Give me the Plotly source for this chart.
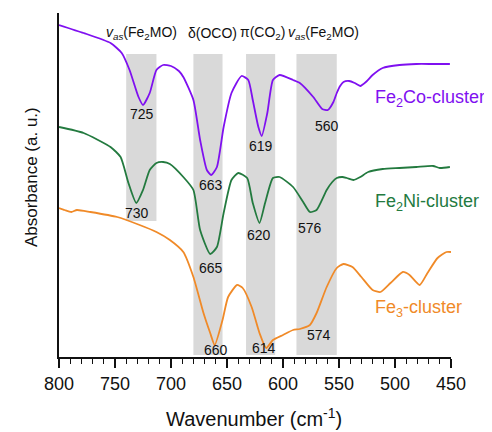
import plotly.graph_objects as go

# Wavenumber (cm-1) and absorbance (a.u., offset traces)
wn_co = [800, 778, 754, 744, 737, 729, 725, 719, 713, 707, 700, 693, 689, 680, 674, 668, 664, 659,
         653, 646, 637, 631, 627, 622, 619, 614, 609, 603, 591, 585, 573, 565, 560, 555, 552, 549,
         546, 541, 536, 531, 526, 520, 511, 496, 481, 466, 451]
ab_co = [332, 324, 314, 304, 287, 260, 252, 264, 287, 292, 291, 286, 280, 257, 217, 187, 182, 190,
         230, 264, 281, 277, 257, 230, 221, 244, 277, 282, 277, 274, 260, 248, 247, 255, 264, 271,
         275, 276, 274, 271, 275, 282, 289, 292, 293, 293, 293]

wn_ni = [800, 778, 754, 745, 738, 731, 725, 719, 713, 707, 701, 689, 680, 674, 665, 659, 653, 646,
         640, 632, 627, 621, 616, 609, 603, 591, 582, 576, 570, 561, 556, 552, 547, 543, 537, 531,
         524, 511, 496, 481, 466, 460, 451]
ab_ni = [230, 224, 210, 200, 174, 154, 167, 187, 194, 195, 193, 180, 167, 127, 103, 110, 144, 177,
         184, 179, 154, 134, 154, 179, 180, 170, 155, 145, 147, 167, 175, 179, 180, 179, 177, 180,
         185, 188, 189, 190, 191, 189, 190]

wn_fe = [800, 795, 789, 784, 772, 748, 728, 713, 701, 689, 680, 671, 665, 661, 654, 649, 641, 636,
         628, 621, 615, 609, 600, 591, 585, 576, 570, 561, 552, 546, 538, 530, 520, 513, 504, 493,
         487, 478, 471, 462, 454, 450]
ab_fe = [149, 147, 145, 147, 145, 140, 132, 125, 117, 105, 80, 44, 24, 12, 37, 60, 72, 69,
         50, 24, 9, 17, 22, 27, 28, 32, 44, 70, 89, 93, 90, 80, 67, 65, 74, 85,
         82, 72, 84, 99, 105, 105]

series_names = ["Fe<sub>2</sub>Co-cluster", "Fe<sub>2</sub>Ni-cluster", "Fe<sub>3</sub>-cluster"]
series_colors = ["#7f10f0", "#237a3f", "#f08a28"]
series_label_y = [259, 155, 49]

# Shaded band ranges (cm-1) and their tops/bottoms
band_lo = [740, 680, 633, 588]
band_hi = [713, 654, 607, 552]
band_bottom = [136, 2, 2, 2]
band_top = 303

# Peak annotations
peak_x = [726, 664, 620, 561, 730, 664, 621, 576, 660, 617, 568]
peak_y = [243, 172, 211, 231, 144, 89, 122, 129, 7, 9, 22]
peak_txt = ["725", "663", "619", "560", "730", "665", "620", "576", "660", "614", "574"]

mode_x = [726, 663, 618, 564]
mode_txt = ["<i>v</i><sub><i>as</i></sub>(Fe<sub>2</sub>MO)", "δ(OCO)", "π(CO<sub>2</sub>)",
            "<i>v</i><sub><i>as</i></sub>(Fe<sub>2</sub>MO)"]
mode_y = 324

x_ticks = [800, 750, 700, 650, 600, 550, 500, 450]

fig = go.Figure()
for wn, ab, c in [(wn_co, ab_co, series_colors[0]), (wn_ni, ab_ni, series_colors[1]),
                  (wn_fe, ab_fe, series_colors[2])]:
    fig.add_trace(go.Scatter(x=wn, y=ab, mode="lines",
                             line=dict(color=c, width=1.8, shape="spline", smoothing=0.55),
                             showlegend=False, hoverinfo="skip"))

shapes = []
for lo, hi, bot in zip(band_lo, band_hi, band_bottom):
    shapes.append(dict(type="rect", xref="x", yref="y", x0=lo, x1=hi, y0=bot, y1=band_top,
                       fillcolor="#d9d9d9", line=dict(width=0), layer="below"))

ann = []
for x, y, t in zip(peak_x, peak_y, peak_txt):
    ann.append(dict(x=x, y=y, text=t, showarrow=False, font=dict(size=14, color="#111"),
                    xanchor="center", yanchor="middle"))
for x, t in zip(mode_x, mode_txt):
    ann.append(dict(x=x, y=mode_y, text=t, showarrow=False, font=dict(size=14, color="#111"),
                    xanchor="center", yanchor="middle"))
for n, c, y in zip(series_names, series_colors, series_label_y):
    ann.append(dict(x=520, y=y, text=n, showarrow=False, font=dict(size=18, color=c),
                    xanchor="left", yanchor="middle"))
# axis titles
ann.append(dict(xref="paper", yref="paper", x=0.497, y=-0.177, text="Wavenumber (cm<sup>-1</sup>)",
                showarrow=False, font=dict(size=20, color="#111"), xanchor="center", yanchor="middle"))
ann.append(dict(xref="paper", yref="paper", x=-0.0714, y=0.523, text="Absorbance (a. u.)", textangle=-90,
                showarrow=False, font=dict(size=17, color="#111"), xanchor="center", yanchor="middle"))

fig.update_layout(
    width=484, height=424,
    margin=dict(l=51, r=41, t=5, b=75),
    paper_bgcolor="white", plot_bgcolor="white",
    font=dict(family="Liberation Sans, Arial, sans-serif", color="#111"),
    shapes=shapes, annotations=ann,
    xaxis=dict(range=[800, 450], tickvals=x_ticks, ticks="outside", ticklen=9, tickwidth=1.5,
               tickcolor="#111", showline=True, linecolor="#111", linewidth=2, showgrid=False,
               zeroline=False, tickfont=dict(size=18), automargin=False,
               minor=dict(dtick=10, ticks="outside", ticklen=5, tickwidth=1.2, tickcolor="#111", showgrid=False)),
    yaxis=dict(range=[0, 344], showticklabels=False, ticks="", showline=True, linecolor="#111",
               linewidth=2, showgrid=False, zeroline=False, automargin=False),
)

fig.write_html("out.html")
